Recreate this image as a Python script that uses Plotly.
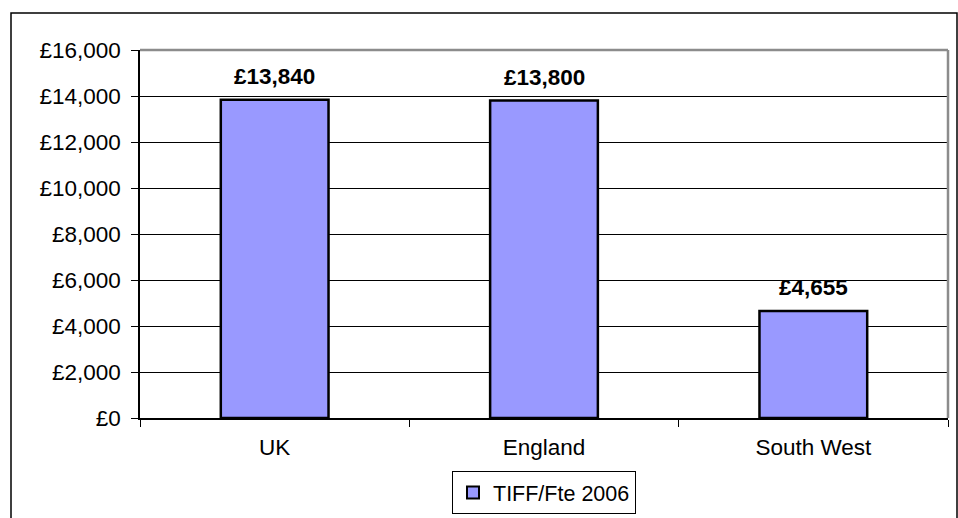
import plotly.graph_objects as go

categories = ["UK", "England", "South West"]
values = [13840, 13800, 4655]
series_name = "TIFF/Fte 2006"
y_ticks = [0, 2000, 4000, 6000, 8000, 10000, 12000, 14000, 16000]
y_tick_labels = ["£0", "£2,000", "£4,000", "£6,000", "£8,000", "£10,000", "£12,000", "£14,000", "£16,000"]

W, H = 958, 518
L, R, T, B = 140, 10, 50, 100
pw, ph = W - L - R, H - T - B
FONT = "Liberation Sans, Arial"
FS = 22.5

def px(x):
    return (x - L) / pw

def py(y):
    return (H - B - y) / ph

fig = go.Figure()
fig.add_trace(go.Bar(
    x=categories, y=values, name=series_name,
    marker=dict(color="#9999FF", line=dict(color="black", width=2.5)),
    width=0.4,
    showlegend=True,
))

annotations = [
    dict(x=c, y=v, xref="x", yref="y", text=f"<b>£{v:,}</b>", showarrow=False,
         yanchor="bottom", yshift=9, font=dict(family=FONT, size=FS, color="black"))
    for c, v in zip(categories, values)
]

fig.update_layout(
    width=W, height=H,
    margin=dict(l=L, r=R, t=T, b=B, autoexpand=False),
    paper_bgcolor="white", plot_bgcolor="white",
    font=dict(family=FONT, size=FS, color="black"),
    showlegend=True,
    legend=dict(
        orientation="h", x=px(544), xanchor="center", y=py(514), yanchor="bottom",
        bordercolor="black", borderwidth=1, bgcolor="white",
        font=dict(size=21.5), itemsizing="constant", itemwidth=30,
        tracegroupgap=0,
    ),
    xaxis=dict(
        showline=True, linecolor="black", linewidth=1.5,
        ticks="outside", tickson="boundaries", ticklen=7, tickcolor="black",
        showgrid=False, ticklabelstandoff=8, automargin=False,
    ),
    yaxis=dict(
        range=[0, 16000], tickvals=y_ticks, ticktext=y_tick_labels,
        showline=True, linecolor="black", linewidth=1.5,
        ticks="outside", ticklen=7, tickcolor="black",
        showgrid=True, gridcolor="black", gridwidth=1,
        zeroline=False, ticklabelstandoff=6, automargin=False,
    ),
    annotations=annotations,
    shapes=[
        dict(type="line", xref="paper", yref="paper", x0=0, x1=1, y0=1, y1=1,
             line=dict(color="#8c8c8c", width=2.5)),
        dict(type="line", xref="paper", yref="paper", x0=1, x1=1, y0=0, y1=1,
             line=dict(color="#8c8c8c", width=2.5)),
        dict(type="rect", xref="paper", yref="paper", x0=px(11), x1=px(957), y0=py(13), y1=py(540),
             line=dict(color="black", width=1.5), layer="above"),
    ],
)

fig.write_html("out.html", config={"displayModeBar": False},
               post_script="document.body.style.margin='0';document.body.style.overflow='hidden';")
